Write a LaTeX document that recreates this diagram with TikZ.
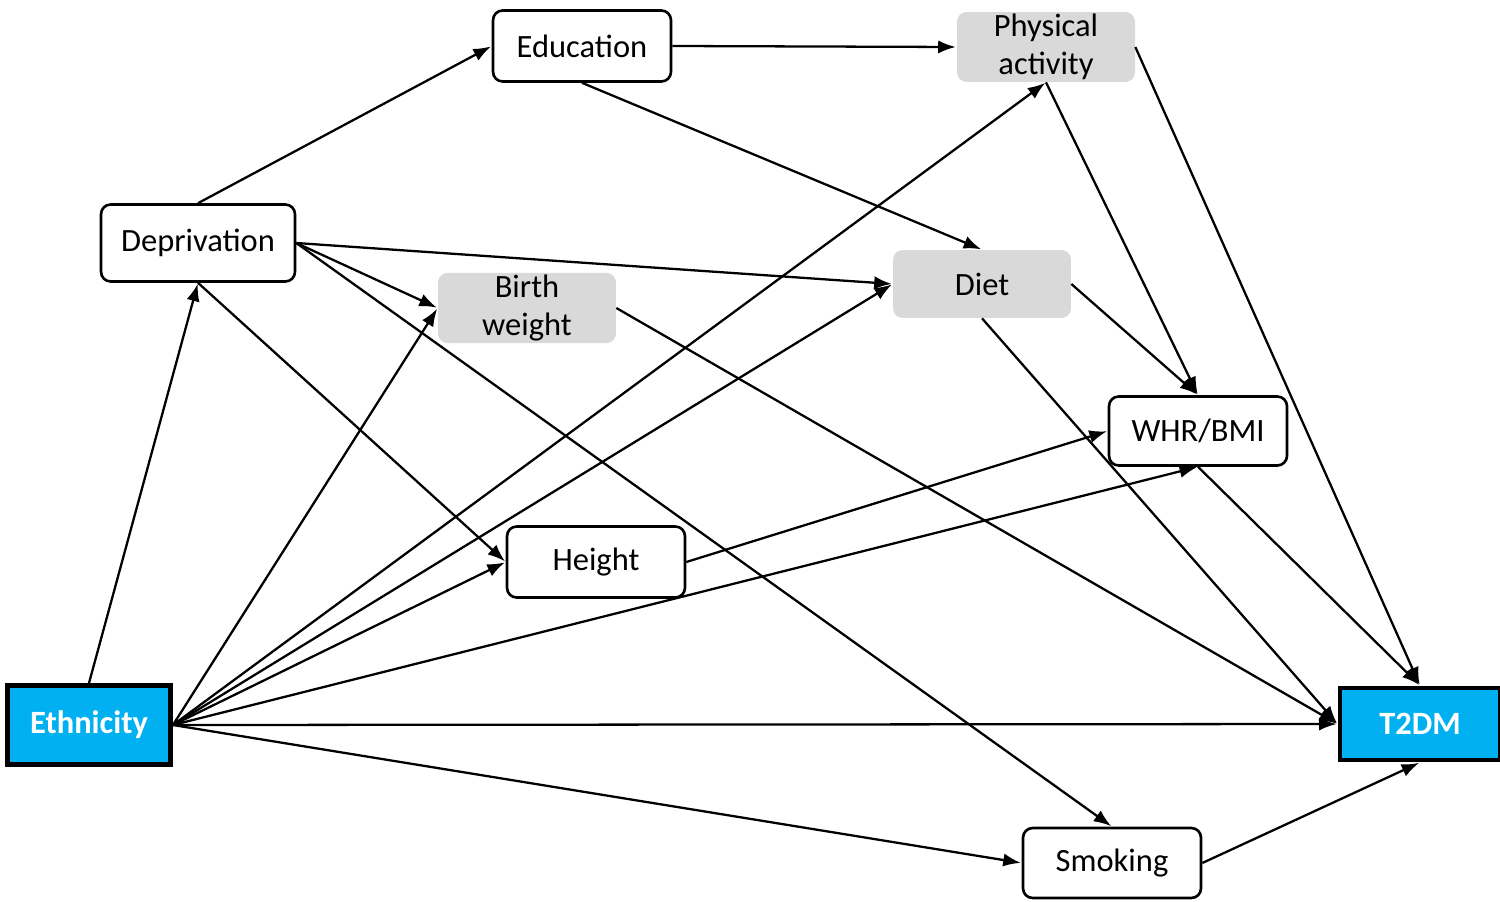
\documentclass[tikz,border=0pt]{standalone}
\usepackage{fontspec}
\setmainfont{Carlito}
\usepackage{xcolor}
\usepackage{tikz}
\usetikzlibrary{arrows.meta}
\definecolor{skyblue}{HTML}{00B0F0}
\definecolor{lightgrey}{HTML}{D9D9D9}

\begin{document}
\begin{tikzpicture}
   [x=0.02cm, y=-0.02cm,
   whitebox/.style={rectangle, rounded corners=5.5pt, draw=black, fill=white, line width=1.5pt, align=center, minimum width=3.56cm, minimum height=1.42cm, font=\fontsize{18.5}{21}\selectfont},
   greybox/.style={rectangle, rounded corners=5.5pt, draw=none, fill=lightgrey, align=center, minimum width=3.56cm, minimum height=1.4cm, inner sep=1pt, font=\fontsize{18.5}{22}\selectfont},
   bluebox/.style={rectangle, draw=black, fill=skyblue, line width=2.8pt, align=center, text=white, minimum height=1.5cm, font=\fontsize{18.5}{21}\selectfont\bfseries},
   link/.style={-{Latex[length=10pt,width=7.5pt]}, line width=1.3pt, shorten >=0.5pt},
   ]
 \useasboundingbox (0,0) rectangle (1500,902);
 %\node at (582,120) [whitebox] (tmp) {};
 \node at (582,46) [whitebox] (edu) {Education};
 \node at (1046,47) [greybox] (phys) {Physical\\activity};
 \node at (198,243) [whitebox, minimum width=3.88cm, minimum height=1.54cm] (dep) {Deprivation};
 \node at (527,308) [greybox] (bw) {Birth\\weight};
 \node at (982,284) [greybox, minimum height=1.36cm] (diet) {Diet};
 \node at (1198,431) [whitebox, minimum height=1.38cm] (whr) {WHR/BMI};
 \node at (596,562) [whitebox] (hgt) {Height};
 \node at (89,725) [bluebox, minimum width=3.26cm, minimum height=1.58cm] (eth) {Ethnicity};
 \node at (1420,724) [bluebox, minimum width=3.2cm, minimum height=1.44cm] (t2dm) {T2DM};
 \node at (1112,863) [whitebox, minimum height=1.4cm] (smk) {Smoking};

 % deprivation
 \draw[link] (dep.north) -- (edu.west);
 \draw[link] (dep.east) -- (diet.west);
 \draw[link] (dep.east) -- (bw.west);
 \draw[link] (dep.east) -- (smk.north);
 \draw[link] (dep.south) -- (hgt.west);
 % education
 \draw[link] (edu.east) -- (phys.west);
 \draw[link] (edu.south) -- (diet.north);
 % mediators
 \draw[link] (phys.south) -- (whr.north);
 \draw[link] (phys.east) -- (t2dm.north);
 \draw[link] (diet.east) -- (whr.north);
 \draw[link] (diet.south) -- (t2dm.west);
 \draw[link] (bw.east) -- (t2dm.west);
 \draw[link] (hgt.east) -- (whr.west);
 \draw[link] (whr.south) -- (t2dm.north);
 \draw[link] (smk.east) -- (t2dm.south);
 % ethnicity
 \draw[link] (eth.north) -- (dep.south);
 \draw[link] (eth.east) -- (bw.west);
 \draw[link] (eth.east) -- (phys.south);
 \draw[link] (eth.east) -- (diet.west);
 \draw[link] (eth.east) -- (hgt.west);
 \draw[link] (eth.east) -- (whr.south);
 \draw[link] (eth.east) -- (t2dm.west);
 \draw[link] (eth.east) -- (smk.west);
\end{tikzpicture}
\end{document}
